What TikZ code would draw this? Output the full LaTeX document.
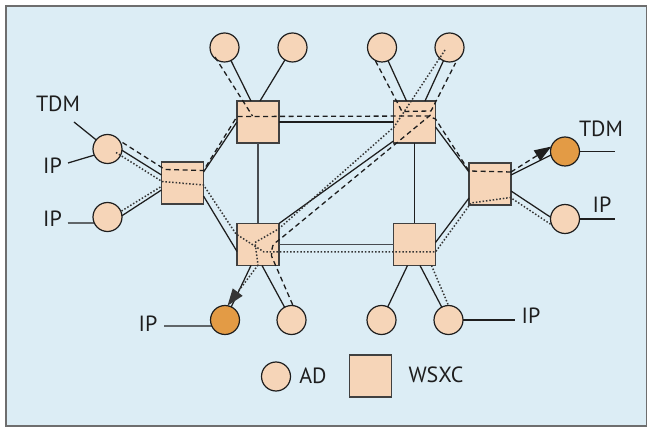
\documentclass[tikz,border=0pt]{standalone}
\usepackage{fontspec}
\setmainfont{PT Sans}
\usetikzlibrary{calc,arrows.meta}
\definecolor{bgblue}{HTML}{DCEDF5}
\definecolor{peach}{HTML}{F6D5B8}
\definecolor{amber}{HTML}{E39B45}
\definecolor{ink}{HTML}{1E1E1E}
\definecolor{trunkgray}{HTML}{474B50}
\definecolor{framegray}{HTML}{6E6E6E}

\begin{document}
\begin{tikzpicture}[x=1pt,y=-1pt,
  wsxc/.style={draw=ink!85, line width=1.4pt, fill=peach, minimum size=42pt, inner sep=0pt, outer sep=0pt},
  ad/.style={circle, draw=ink, line width=1.2pt, fill=peach, minimum size=29pt, inner sep=0pt, outer sep=0pt},
  adout/.style={ad, fill=amber},
  link/.style={draw=ink, line width=1.25pt},
  trunk/.style={draw=trunkgray, line width=1.8pt},
  tdmpath/.style={draw=ink, line width=1.3pt, dash pattern=on 5pt off 3.5pt},
  ippath/.style={draw=ink!90, line width=1.5pt, dash pattern=on 1.5pt off 1.9pt},
  lbl/.style={font=\fontsize{22}{24}\selectfont, anchor=base, inner sep=0pt, text=ink},
  tip/.style={-{Triangle[length=17pt,width=12pt]}}
]
\useasboundingbox (0,0) rectangle (647,427);
\fill[white] (0,0) rectangle (647,427);
\draw[framegray, line width=1.5pt, fill=bgblue] (6,6) rectangle (646.5,426);

% wavelength-selective cross-connects
\node[wsxc] (S1) at (182.5,183) {};
\node[wsxc] (S2) at (258,122) {};
\node[wsxc] (S3) at (414.5,122) {};
\node[wsxc] (S4) at (490,184) {};
\node[wsxc] (S5) at (258,244.5) {};
\node[wsxc] (S6) at (414.5,244.5) {};

% access devices
\node[ad] (cTDML) at (107.5,149) {};
\node[ad] (cIPL) at (107.5,217) {};
\node[ad] (ctop1) at (224.5,47.5) {};
\node[ad] (ctop2) at (292.5,47.5) {};
\node[ad] (ctop3) at (382,47.5) {};
\node[ad] (ctop4) at (449.5,47.5) {};
\node[adout] (cTDMR) at (565,151.5) {};
\node[ad] (cIPR) at (565,219) {};
\node[adout] (cbotO) at (225,320) {};
\node[ad] (cbot2) at (291.5,320) {};
\node[ad] (cbot3) at (381.5,320) {};
\node[ad] (cbot4) at (448.5,320) {};

% legend
\node[ad] (cleg) at (276,376.5) {};
\node[wsxc] (Sleg) at (370.5,376) {};
\node[lbl] (lAD) at (313,383) {AD};
\node[lbl] (lWSXC) at (436,382) {WSXC};

% fibre links
\draw[link] (cTDML.-5) -- ($(S1.west)+(0,-8)$);
\draw[link] (cIPL.5) -- ($(S1.west)+(0,7)$);
\draw[link] ($(S1.east)+(0,-11)$) -- (S2.west);
\draw[link] ($(S1.east)+(0,13)$) -- ($(S5.west)+(0,7)$);
\draw[trunk] (S2.south) -- (S5.north);
\draw[link] (S2.east) -- (S3.west);
\draw[link] (S3.south) -- (S6.north);
\draw[trunk] (S5.east) -- (S6.west);
\draw[link] (S5.north east) -- ($(S3.south west)+(0,-2)$);
\draw[link] ($(S3.east)+(0,5)$) -- ($(S4.west)+(0,-12)$);
\draw[link] ($(S4.west)+(0,14)$) -- ($(S6.east)+(0,-2)$);
\draw[link] ($(S4.east)+(0,-9)$) -- (cTDMR.194);
\draw[link] ($(S4.east)+(0,7)$) -- (cIPR.173);
\draw[link] (ctop1) -- ($(S2.north)+(-7,0)$);
\draw[link] (ctop2) -- ($(S2.north)+(2,0)$);
\draw[link] (ctop3) -- ($(S3.north)+(-8,0)$);
\draw[link] (ctop4) -- ($(S3.north)+(10.5,0)$);
\draw[link] ($(S5.south)+(-7,0)$) -- (cbotO);
\draw[link] ($(S5.south)+(4,0)$) -- (cbot2);
\draw[link] ($(S6.south)+(-7,0)$) -- (cbot3);
\draw[link] ($(S6.south)+(5.5,0)$) -- (cbot4);

% client tributaries
\coordinate (tTDML) at (74,122);
\coordinate (tIPL1) at (68,163);
\coordinate (tIPL2) at (68,223);
\coordinate (tTDMR) at (615,151.5);
\coordinate (tIPR) at (615,219);
\coordinate (tIPB1) at (164,326);
\coordinate (tIPB2) at (515,320);
\draw[link] (tTDML) -- (cTDML);
\draw[link] (tIPL1) -- (cTDML.205);
\draw[link] (tIPL2) -- (cIPL.204);
\draw[link] (cTDMR.east) -- (tTDMR);
\draw[link] (cIPR.east) -- (tIPR);
\draw[link] (tIPB1) -- (cbotO.204);
\draw[link] (cbot4.east) -- (tIPB2);

% TDM lightpaths (dashed)
\draw[tdmpath] ($(cTDML)+(15,-6.5)$) -- ($(S1)+(-17.5,-13.5)$) -- ($(S1)+(21,-12.5)$)
  -- ($(S2)+(-21,-5.5)$) -- ($(S3)+(13.5,-6)$) -- ($(S3)+(21,-3)$)
  -- ($(S4)+(-21,-13)$) -- ($(S4)+(21,-12)$);
\draw[tdmpath, tip] ($(S4)+(21,-12)$) -- (cTDMR.160);
\draw[tdmpath] ($(ctop1)+(-9.5,9.5)$) -- ($(S2)+(-5.5,-6)$);
\draw[tdmpath] ($(S3)+(16,-7)$) -- ($(S5)+(21,-4.5)$)
  .. controls ($(S5)+(14,0.5)$) .. ($(S5)+(13.5,11.5)$) -- (cbot2.84);
\draw[tdmpath] ($(ctop3)+(-6.5,13.5)$) -- ($(S3)+(-12.5,-10.5)$)
  -- ($(S3)+(16.5,-11)$) -- ($(ctop4)+(6,15.5)$);

% IP lightpaths (dotted)
\draw[ippath] ($(cTDML)+(8.5,3.5)$) -- ($(S1)+(-20.5,-1.5)$) -- ($(S1)+(21,2)$)
  -- ($(S5)+(-22,-10.5)$) -- ($(S5)+(6,7.5)$) -- ($(S6)+(21,7.5)$)
  -- ($(S4)+(-19,19)$) -- ($(S4)+(20.5,13.5)$) -- ($(cIPR)+(-14,5.5)$);
\draw[ippath] ($(cIPL)+(14,-6)$) -- ($(S1)+(-20.5,3)$);
\draw[ippath] ($(ctop4)+(-4.5,2.5)$) -- ($(S3)+(-20.5,5)$) -- ($(S5)+(20.5,-15.5)$)
  -- ($(S5)+(-3,-2)$) -- ($(S5)+(0,20.5)$);
\draw[ippath, tip] ($(S5)+(0,20.5)$) -- (cbotO.80);
\draw[ippath] ($(S6)+(17,21)$) -- (cbot4.north);

% client labels
\node[lbl] (lTDML) at (58,112) {TDM};
\node[lbl] (lIPL1) at (52.5,174) {IP};
\node[lbl] (lIPL2) at (52.5,227) {IP};
\node[lbl] (lTDMR) at (601,137) {TDM};
\node[lbl] (lIPR) at (602,213) {IP};
\node[lbl] (lIPB2) at (531,323) {IP};
\node[lbl] (lIPB1) at (148,331) {IP};
\end{tikzpicture}
\end{document}
